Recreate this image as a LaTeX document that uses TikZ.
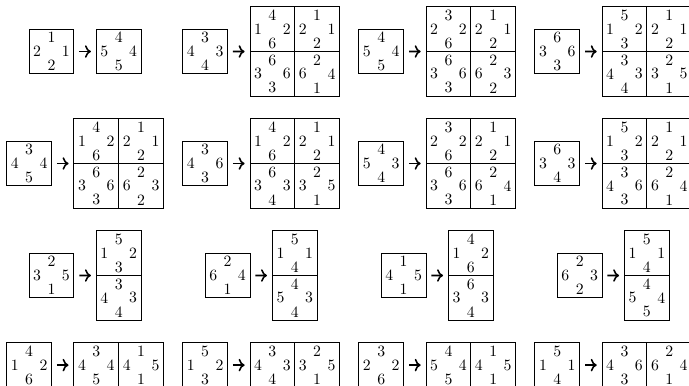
\documentclass[tikz,border=0pt]{standalone}
\usetikzlibrary{arrows.meta}

\tikzset{
  tile/.style={draw, line width=0.55pt, minimum size=1cm, inner sep=0pt, outer sep=0pt},
  num/.style={inner sep=0pt},
  arr/.style={-{Computer Modern Rightarrow}, line width=1pt, shorten <=1.2mm, shorten >=1.2mm}
}

% tile: name, position, top, left, right, bottom
\newcommand{\tile}[6]{%
  \node[tile] (#1) at (#2) {};
  \node[num] (#1t) at ([yshift=-0.19cm]#1.north) {#3};
  \node[num] (#1l) at ([xshift=0.18cm]#1.west) {#4};
  \node[num] (#1r) at ([xshift=-0.18cm]#1.east) {#5};
  \node[num] (#1b) at ([yshift=0.19cm]#1.south) {#6};
}

\begin{document}
\begin{tikzpicture}
  \useasboundingbox (0,0) rectangle (15.38,-8.616);

  % row 1
  \tile{s11}{1.15,-1.15}{1}{2}{1}{2}
  \tile{r11}{2.65,-1.15}{4}{5}{4}{5}
  \draw[arr] (s11) -- (r11);

  \tile{s12}{4.58,-1.15}{3}{4}{3}{4}
  \tile{r12a}{6.08,-0.65}{4}{1}{2}{6}
  \tile{r12b}{7.08,-0.65}{1}{2}{1}{2}
  \tile{r12c}{6.08,-1.65}{6}{3}{6}{3}
  \tile{r12d}{7.08,-1.65}{2}{6}{4}{1}
  \draw[arr] (s12) -- (r12a.south west);

  \tile{s13}{8.51,-1.15}{4}{5}{4}{5}
  \tile{r13a}{10.01,-0.65}{3}{2}{2}{6}
  \tile{r13b}{11.01,-0.65}{1}{2}{1}{2}
  \tile{r13c}{10.01,-1.65}{6}{3}{6}{3}
  \tile{r13d}{11.01,-1.65}{2}{6}{3}{2}
  \draw[arr] (s13) -- (r13a.south west);

  \tile{s14}{12.44,-1.15}{6}{3}{6}{3}
  \tile{r14a}{13.94,-0.65}{5}{1}{2}{3}
  \tile{r14b}{14.94,-0.65}{1}{2}{1}{2}
  \tile{r14c}{13.94,-1.65}{3}{4}{3}{4}
  \tile{r14d}{14.94,-1.65}{2}{3}{5}{1}
  \draw[arr] (s14) -- (r14a.south west);

  % row 2
  \tile{s21}{0.65,-3.65}{3}{4}{4}{5}
  \tile{r21a}{2.15,-3.15}{4}{1}{2}{6}
  \tile{r21b}{3.15,-3.15}{1}{2}{1}{2}
  \tile{r21c}{2.15,-4.15}{6}{3}{6}{3}
  \tile{r21d}{3.15,-4.15}{2}{6}{3}{2}
  \draw[arr] (s21) -- (r21a.south west);

  \tile{s22}{4.58,-3.65}{3}{4}{6}{3}
  \tile{r22a}{6.08,-3.15}{4}{1}{2}{6}
  \tile{r22b}{7.08,-3.15}{1}{2}{1}{2}
  \tile{r22c}{6.08,-4.15}{6}{3}{3}{4}
  \tile{r22d}{7.08,-4.15}{2}{3}{5}{1}
  \draw[arr] (s22) -- (r22a.south west);

  \tile{s23}{8.51,-3.65}{4}{5}{3}{4}
  \tile{r23a}{10.01,-3.15}{3}{2}{2}{6}
  \tile{r23b}{11.01,-3.15}{1}{2}{1}{2}
  \tile{r23c}{10.01,-4.15}{6}{3}{6}{3}
  \tile{r23d}{11.01,-4.15}{2}{6}{4}{1}
  \draw[arr] (s23) -- (r23a.south west);

  \tile{s24}{12.44,-3.65}{6}{3}{3}{4}
  \tile{r24a}{13.94,-3.15}{5}{1}{2}{3}
  \tile{r24b}{14.94,-3.15}{1}{2}{1}{2}
  \tile{r24c}{13.94,-4.15}{3}{4}{6}{3}
  \tile{r24d}{14.94,-4.15}{2}{6}{4}{1}
  \draw[arr] (s24) -- (r24a.south west);

  % row 3
  \tile{s31}{1.15,-6.15}{2}{3}{5}{1}
  \tile{r31a}{2.65,-5.65}{5}{1}{2}{3}
  \tile{r31b}{2.65,-6.65}{3}{4}{3}{4}
  \draw[arr] (s31) -- (r31a.south west);

  \tile{s32}{5.08,-6.15}{2}{6}{4}{1}
  \tile{r32a}{6.58,-5.65}{5}{1}{1}{4}
  \tile{r32b}{6.58,-6.65}{4}{5}{3}{4}
  \draw[arr] (s32) -- (r32a.south west);

  \tile{s33}{9.01,-6.15}{1}{4}{5}{1}
  \tile{r33a}{10.51,-5.65}{4}{1}{2}{6}
  \tile{r33b}{10.51,-6.65}{6}{3}{3}{4}
  \draw[arr] (s33) -- (r33a.south west);

  \tile{s34}{12.94,-6.15}{2}{6}{3}{2}
  \tile{r34a}{14.44,-5.65}{5}{1}{1}{4}
  \tile{r34b}{14.44,-6.65}{4}{5}{4}{5}
  \draw[arr] (s34) -- (r34a.south west);

  % row 4
  \tile{s41}{0.65,-8.15}{4}{1}{2}{6}
  \tile{r41a}{2.15,-8.15}{3}{4}{4}{5}
  \tile{r41b}{3.15,-8.15}{1}{4}{5}{1}
  \draw[arr] (s41) -- (r41a);

  \tile{s42}{4.58,-8.15}{5}{1}{2}{3}
  \tile{r42a}{6.08,-8.15}{3}{4}{3}{4}
  \tile{r42b}{7.08,-8.15}{2}{3}{5}{1}
  \draw[arr] (s42) -- (r42a);

  \tile{s43}{8.51,-8.15}{3}{2}{2}{6}
  \tile{r43a}{10.01,-8.15}{4}{5}{4}{5}
  \tile{r43b}{11.01,-8.15}{1}{4}{5}{1}
  \draw[arr] (s43) -- (r43a);

  \tile{s44}{12.44,-8.15}{5}{1}{1}{4}
  \tile{r44a}{13.94,-8.15}{3}{4}{6}{3}
  \tile{r44b}{14.94,-8.15}{2}{6}{4}{1}
  \draw[arr] (s44) -- (r44a);
\end{tikzpicture}
\end{document}
